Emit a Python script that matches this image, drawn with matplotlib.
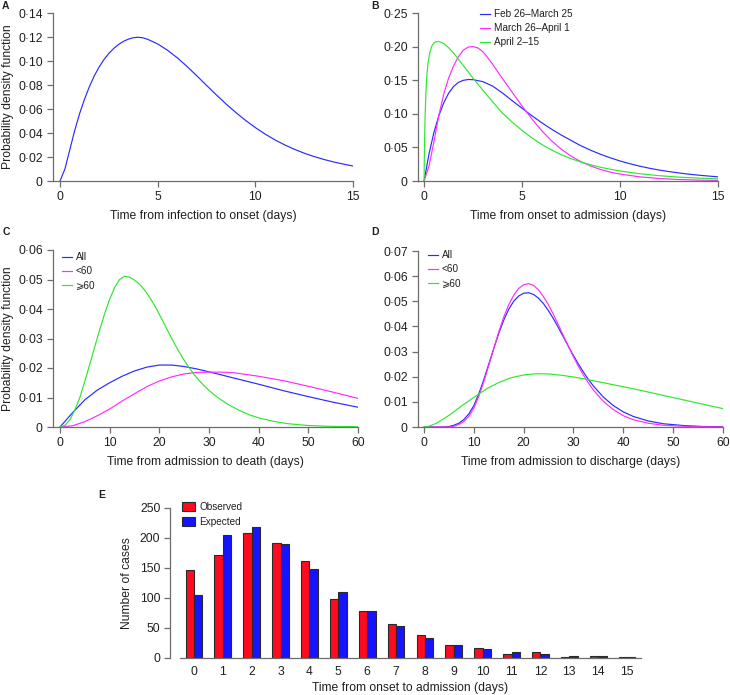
import numpy as np
import matplotlib
matplotlib.use('Agg')
import matplotlib.pyplot as plt
from matplotlib.patches import Patch
from matplotlib.lines import Line2D

plt.rcParams['font.family'] = ['Liberation Sans', 'DejaVu Sans']
plt.rcParams['font.size'] = 8.7

BLUE = '#2a2aff'
MAGENTA = '#ff2cff'
GREEN = '#2ee82e'
AXIS = '#6d6d6d'
TEXT = '#231f20'

# Panel A: infection to onset
a_x = [0, 0.25, 0.5, 0.75, 1.0, 1.25, 1.5, 1.75, 2.0, 2.25, 2.5, 2.75, 3.0, 3.25, 3.5,
       3.75, 4.0, 4.25, 4.5, 5.0, 5.5, 6.0, 6.5, 7.0, 7.5, 8.0, 8.5, 9.0, 9.5, 10.0,
       10.5, 11.0, 11.5, 12.0, 12.5, 13.0, 13.5, 14.0, 14.5, 15.0]
a_y = [0, 0.010, 0.026, 0.042, 0.056, 0.068, 0.0785, 0.0875, 0.0950, 0.1012, 0.1063,
       0.1105, 0.1138, 0.1164, 0.1182, 0.1194, 0.1198, 0.1193, 0.1180, 0.1142, 0.1090,
       0.1027, 0.0955, 0.0877, 0.0797, 0.0718, 0.0642, 0.0571, 0.0505, 0.0445, 0.0391,
       0.0343, 0.0301, 0.0264, 0.0232, 0.0204, 0.0180, 0.0159, 0.0141, 0.0125]

# Panel B: onset to admission by period
b_labels = ['Feb 26\u2013March 25', 'March 26\u2013April 1', 'April 2\u201315']
b_blue_x = [0, 0.25, 0.5, 0.75, 1.0, 1.25, 1.5, 1.75, 2.0, 2.25, 2.5, 3.0, 3.5, 4.0, 4.5,
            5.0, 5.5, 6.0, 6.5, 7.0, 7.5, 8.0, 8.5, 9.0, 9.5, 10.0, 10.5, 11.0, 11.5,
            12.0, 12.5, 13.0, 13.5, 14.0, 14.5, 15.0]
b_blue_y = [0, 0.040, 0.072, 0.097, 0.116, 0.1305, 0.1405, 0.1467, 0.1498, 0.1510, 0.1508,
            0.1478, 0.1412, 0.1310, 0.1195, 0.1082, 0.0972, 0.0868, 0.0772, 0.0684,
            0.0604, 0.0525, 0.0458, 0.0398, 0.0345, 0.0298, 0.0257, 0.0221, 0.0190,
            0.0163, 0.0140, 0.0120, 0.0102, 0.0087, 0.0074, 0.0062]
b_mag_x = [0, 0.25, 0.5, 0.75, 1.0, 1.25, 1.5, 1.75, 2.0, 2.25, 2.5, 2.75, 3.0, 3.25,
           3.5, 3.75, 4.0, 4.5, 5.0, 5.5, 6.0, 6.5, 7.0, 7.5, 8.0, 8.5, 9.0, 9.5, 10.0,
           11.0, 12.0, 13.0, 14.0, 15.0]
b_mag_y = [0, 0.022, 0.058, 0.097, 0.129, 0.153, 0.171, 0.185, 0.1945, 0.1993, 0.2000,
           0.1980, 0.1925, 0.1835, 0.1735, 0.1630, 0.1525, 0.1320, 0.1115, 0.0925, 0.0750,
           0.0600, 0.0473, 0.0370, 0.0288, 0.0223, 0.0172, 0.0133, 0.0103, 0.0062,
           0.0037, 0.0022, 0.0013, 0.0008]
b_grn_x = [0, 0.02, 0.05, 0.1, 0.15, 0.2, 0.3, 0.4, 0.5, 0.6, 0.75, 0.9, 1.0, 1.25, 1.5,
           1.75, 2.0, 2.25, 2.5, 2.75, 3.0, 3.5, 4.0, 4.5, 5.0, 5.5, 6.0, 6.5, 7.0, 7.5,
           8.0, 8.5, 9.0, 9.5, 10.0, 11.0, 12.0, 13.0, 14.0, 15.0]
b_grn_y = [0, 0.050, 0.095, 0.135, 0.160, 0.175, 0.192, 0.201, 0.2055, 0.2072, 0.2075,
           0.2060, 0.2045, 0.1985, 0.1905, 0.1815, 0.1720, 0.1625, 0.1530, 0.1440, 0.1352,
           0.1177, 0.1010, 0.0875, 0.0752, 0.0642, 0.0545, 0.0462, 0.0392, 0.0333,
           0.0283, 0.0241, 0.0205, 0.0175, 0.0149, 0.0108, 0.0079, 0.0058, 0.0043, 0.0032]

# Panel C: admission to death by age
age_labels = ['All', '<60', '\u2a7e60']
c_blue_x = [0, 2.5, 5, 7.5, 10, 12.5, 15, 17.5, 20, 22.5, 25, 27.5, 30, 35, 40, 45, 50, 55, 60]
c_blue_y = [0, 0.0048, 0.0092, 0.0125, 0.0150, 0.0172, 0.0190, 0.0203, 0.0210, 0.0210,
            0.0205, 0.0197, 0.0187, 0.0166, 0.0145, 0.0123, 0.0103, 0.0084, 0.0067]
c_mag_x = [0, 2.5, 5, 7.5, 10, 12.5, 15, 17.5, 20, 22.5, 25, 27.5, 30, 32.5, 35, 40, 45,
           50, 55, 60]
c_mag_y = [0, 0.0004, 0.0018, 0.0038, 0.0061, 0.0088, 0.0113, 0.0137, 0.0156, 0.0170,
           0.0180, 0.0185, 0.0186, 0.0186, 0.0184, 0.0172, 0.0157, 0.0138, 0.0118, 0.0097]
c_grn_x = [0, 1, 2, 3, 4, 5, 6, 7, 8, 9, 10, 11, 12, 13, 14, 15, 16, 17, 18, 19, 20, 21,
           22, 23, 24, 25, 26, 27, 28, 29, 30, 31, 32, 34, 36, 38, 40, 43, 46, 50, 55, 60]
c_grn_y = [0, 0.0006, 0.0025, 0.0058, 0.0100, 0.0155, 0.0213, 0.0272, 0.0330, 0.0385,
           0.0433, 0.0473, 0.0500, 0.0511, 0.0508, 0.0498, 0.0484, 0.0465, 0.0441, 0.0413,
           0.0382, 0.0349, 0.0316, 0.0284, 0.0254, 0.0226, 0.0201, 0.0178, 0.0158, 0.0140,
           0.0124, 0.0110, 0.0097, 0.0075, 0.0057, 0.0042, 0.0031, 0.0019, 0.0011, 0.0005,
           0.0002, 0.0001]

# Panel D: admission to discharge by age
d_blue_x = [0, 4, 5, 6, 7, 8, 9, 10, 11, 12, 13, 14, 15, 16, 17, 18, 19, 20, 21, 22, 23,
            24, 25, 26, 27, 28, 29, 30, 31, 32, 33, 34, 36, 38, 40, 42, 45, 48, 52, 56, 60]
d_blue_y = [0, 0, 0.0002, 0.0007, 0.0015, 0.0030, 0.0052, 0.0085, 0.0132, 0.0188, 0.0250,
            0.0312, 0.0372, 0.0425, 0.0468, 0.0500, 0.0521, 0.0532, 0.0534, 0.0527, 0.0512,
            0.0490, 0.0462, 0.0430, 0.0394, 0.0357, 0.0320, 0.0284, 0.0250, 0.0218,
            0.0189, 0.0163, 0.0119, 0.0085, 0.0060, 0.0042, 0.0024, 0.0013, 0.0006,
            0.0002, 0.0001]
d_mag_x = [0, 5, 6, 7, 8, 9, 10, 11, 12, 13, 14, 15, 16, 17, 18, 19, 20, 21, 22, 23, 24,
           25, 26, 27, 28, 29, 30, 31, 32, 33, 34, 36, 38, 40, 42, 45, 48, 52, 56, 60]
d_mag_y = [0, 0, 0.0003, 0.0010, 0.0022, 0.0042, 0.0075, 0.0122, 0.0180, 0.0245, 0.0312,
           0.0378, 0.0437, 0.0486, 0.0524, 0.0551, 0.0566, 0.0570, 0.0563, 0.0545, 0.0518,
           0.0485, 0.0447, 0.0405, 0.0362, 0.0320, 0.0279, 0.0241, 0.0206, 0.0175,
           0.0147, 0.0102, 0.0069, 0.0045, 0.0029, 0.0015, 0.0007, 0.0003, 0.0001, 0]
d_grn_x = [0, 1, 2.5, 5, 7.5, 10, 12.5, 15, 17.5, 20, 22.5, 25, 27.5, 30, 32.5, 35, 37.5,
           40, 42.5, 45, 47.5, 50, 52.5, 55, 57.5, 60]
d_grn_y = [0, 0.0003, 0.0015, 0.0046, 0.0083, 0.0118, 0.0151, 0.0177, 0.0196, 0.0207,
           0.0212, 0.0211, 0.0206, 0.0199, 0.0190, 0.0180, 0.0170, 0.0160, 0.0150, 0.0139,
           0.0128, 0.0117, 0.0106, 0.0095, 0.0084, 0.0073]

# Panel E: observed vs expected counts
e_days = list(range(16))
e_observed = [147, 172, 208, 192, 162, 98, 79, 57, 38, 22, 16, 7, 10, 1, 3, 2]
e_expected = [105, 205, 219, 190, 149, 110, 78, 54, 33, 22, 15, 10, 6, 4, 3, 1]


W, H = 730, 695


def px_axes(fig, left, right, top, bottom):
    return fig.add_axes([left / W, 1 - bottom / H, (right - left) / W, (bottom - top) / H])


def style_axes(ax):
    for s in ['top', 'right']:
        ax.spines[s].set_visible(False)
    for s in ['left', 'bottom']:
        ax.spines[s].set_color(AXIS)
        ax.spines[s].set_linewidth(0.9)
    ax.tick_params(colors=AXIS, labelcolor=TEXT, length=4.3, width=0.9, pad=3,
                   labelsize=8.7)


def dot_fmt(v, pos=None):
    if v == 0:
        return '0'
    return f'{v:.2f}'.replace('.', '\u00b7')


def curve_panel(ax, series, xmax, xticks, ymax, ystep, xlabel, xleft):
    for x, y, c in series:
        ax.plot(x, y, color=c, lw=0.85)
    ax.set_xlim(xleft, xmax)
    ax.set_ylim(0, ymax)
    ax.set_xticks(xticks)
    ax.set_yticks(np.arange(0, ymax + ystep / 2, ystep))
    ax.yaxis.set_major_formatter(plt.FuncFormatter(dot_fmt))
    ax.set_xlabel(xlabel, color=TEXT, labelpad=5)
    style_axes(ax)


def add_legend(ax, labels, colors, anchor):
    handles = [Line2D([], [], color=c, lw=0.85) for c in colors]
    ax.legend(handles, labels, loc='upper left', bbox_to_anchor=anchor, frameon=False,
              fontsize=7.2, handlelength=0.95, handletextpad=0.4, labelspacing=0.42,
              borderpad=0, borderaxespad=0, labelcolor=TEXT)


fig = plt.figure(figsize=(7.3, 6.95), dpi=100)

ax_a = px_axes(fig, 53, 353, 13, 181)
curve_panel(ax_a, [(a_x, a_y, BLUE)], 15, [0, 5, 10, 15], 0.14, 0.02,
            'Time from infection to onset (days)', -0.36)
ax_a.set_ylabel('Probability density function', color=TEXT)
ax_a.yaxis.set_label_coords(-39 / 300, 0.5)

ax_b = px_axes(fig, 418, 718, 13, 181)
curve_panel(ax_b, [(b_blue_x, b_blue_y, BLUE), (b_mag_x, b_mag_y, MAGENTA),
                   (b_grn_x, b_grn_y, GREEN)], 15, [0, 5, 10, 15], 0.25, 0.05,
            'Time from onset to admission (days)', -0.31)
add_legend(ax_b, b_labels, [BLUE, MAGENTA, GREEN], ((480 - 418) / 300, (181 - 9) / 168))

ax_c = px_axes(fig, 53, 358, 250, 427)
curve_panel(ax_c, [(c_blue_x, c_blue_y, BLUE), (c_mag_x, c_mag_y, MAGENTA),
                   (c_grn_x, c_grn_y, GREEN)], 60, [0, 10, 20, 30, 40, 50, 60], 0.06,
            0.01, 'Time from admission to death (days)', -1.41)
ax_c.set_ylabel('Probability density function', color=TEXT)
ax_c.yaxis.set_label_coords(-39 / 305, 0.5)
add_legend(ax_c, age_labels, [BLUE, MAGENTA, GREEN], ((62 - 53) / 305, (427 - 252) / 177))

ax_d = px_axes(fig, 418, 723, 251, 427)
curve_panel(ax_d, [(d_blue_x, d_blue_y, BLUE), (d_mag_x, d_mag_y, MAGENTA),
                   (d_grn_x, d_grn_y, GREEN)], 60, [0, 10, 20, 30, 40, 50, 60], 0.07,
            0.01, 'Time from admission to discharge (days)', -1.2)
add_legend(ax_d, age_labels, [BLUE, MAGENTA, GREEN], ((428 - 418) / 305, (427 - 250) / 176))

# bar panel
ax_e = px_axes(fig, 179.5, 641.5, 508, 658)
bw = 0.29
days = np.array(e_days)
ax_e.bar(days - bw / 2, e_observed, bw, color='#ff0a1e', edgecolor='#2a2a2a', lw=0.8,
         label='Observed')
ax_e.bar(days + bw / 2, e_expected, bw, color='#1414ff', edgecolor='#2a2a2a', lw=0.8,
         label='Expected')
ax_e.set_xlim(-0.5, 15.5)
ax_e.set_ylim(0, 250)
ax_e.set_xticks(e_days)
ax_e.set_yticks([0, 50, 100, 150, 200, 250])
style_axes(ax_e)
ax_e.spines['left'].set_position(('outward', 6.5))
ax_e.tick_params(axis='x', length=0, pad=6)
ax_e.set_xlabel('Time from onset to admission (days)', color=TEXT, labelpad=3)
ax_e.set_ylabel('Number of cases', color=TEXT)
ax_e.yaxis.set_label_coords(-46 / 462, 0.5)
handles = [Patch(facecolor='#ff0a1e', edgecolor='#2a2a2a', lw=0.8),
           Patch(facecolor='#1414ff', edgecolor='#2a2a2a', lw=0.8)]
ax_e.legend(handles, ['Observed', 'Expected'], loc='upper left',
            bbox_to_anchor=((182 - 179.5) / 462, (658 - 502) / 150), frameon=False,
            fontsize=7.2, handlelength=1.25, handleheight=0.9, handletextpad=0.5,
            labelspacing=0.5, borderpad=0, borderaxespad=0, labelcolor=TEXT)

# panel letters
for lab, x, y in [('A', 2, 1), ('B', 371, 1), ('C', 3, 227), ('D', 371, 227), ('E', 98, 490)]:
    fig.text(x / W, 1 - y / H, lab, fontsize=7.5, fontweight='bold', color=TEXT,
             ha='left', va='top')

fig.savefig('out.png', dpi=100)
